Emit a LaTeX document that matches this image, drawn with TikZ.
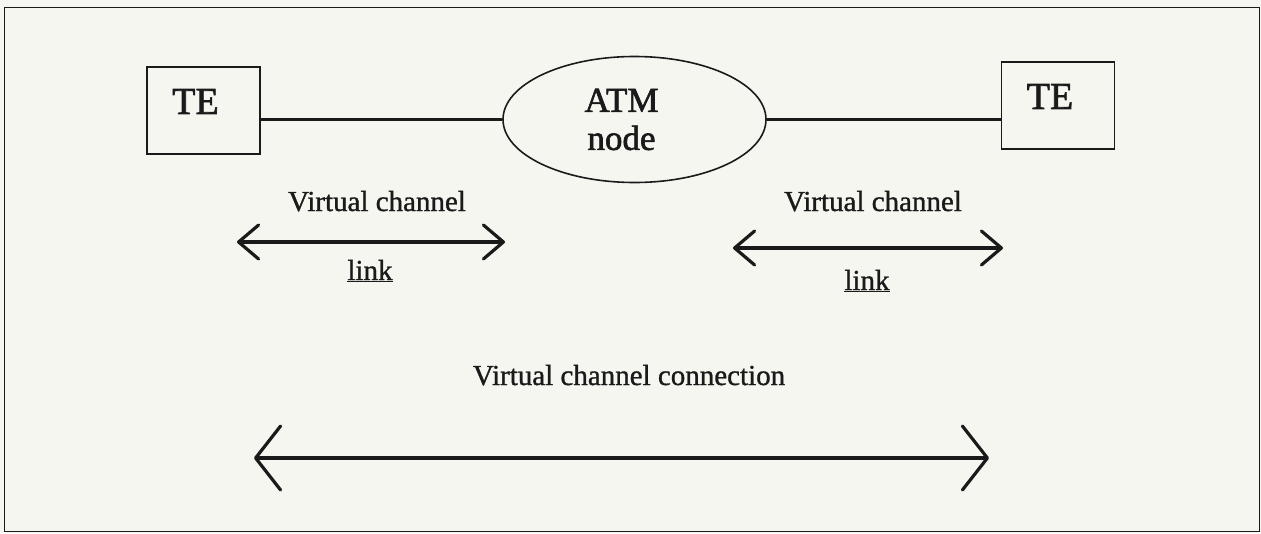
\documentclass[tikz,border=0pt]{standalone}
\usepackage{fontspec}
\setmainfont{Liberation Serif}
\newfontfamily\heavyfont[FakeBold=1.8]{Liberation Serif}
\newfontfamily\labelfont[FakeBold=1.0]{Liberation Serif}
\usetikzlibrary{arrows.meta,shapes.geometric}
\definecolor{paper}{HTML}{F6F6F1}
\definecolor{ink}{HTML}{1A1A1A}
\begin{document}
\begin{tikzpicture}[x=1pt,y=-1pt,
  tebox/.style={draw=ink,line width=1.8pt,rectangle,inner sep=0pt,minimum width=113pt,minimum height=87pt},
  tetext/.style={font=\heavyfont\fontsize{38}{40}\selectfont,text=ink},
  atmshape/.style={draw=ink,line width=1.6pt,ellipse,inner sep=0pt,minimum width=263pt,minimum height=126pt},
  lbl/.style={font=\labelfont\fontsize{29}{32}\selectfont,text=ink,anchor=base,inner sep=0pt},
  wire/.style={draw=ink,line width=3.4pt},
  smallarrow/.style={draw=ink,line width=4.2pt,line cap=round,{Straight Barb[length=20pt,width=34pt,line width=3.2pt,round]}-{Straight Barb[length=20pt,width=34pt,line width=3.2pt,round]}},
  bigarrow/.style={draw=ink,line width=4.2pt,line cap=round,{Straight Barb[length=25pt,width=64pt,line width=3.2pt,round]}-{Straight Barb[length=25pt,width=64pt,line width=3.2pt,round]}}
]
\useasboundingbox (0,0) rectangle (1261,533);
\fill[paper] (0,0) rectangle (1261,533);
\draw[ink,line width=1.6pt] (4.5,7.5) rectangle (1259.5,531.5);

\node[tebox,label={[tetext,xshift=-8pt,yshift=9pt,name=teLt]center:TE}] (teL) at (203.5,110.5) {};
\node[tebox,label={[tetext,xshift=-8pt,yshift=9pt,name=teRt]center:TE}] (teR) at (1058,105.5) {};
\node[atmshape,label={[font=\heavyfont\fontsize{35}{38}\selectfont,text=ink,align=center,xshift=-13pt,name=atmt]center:ATM\\node}] (atm) at (634.5,119.5) {};

\draw[wire] (teL.east |- atm.west) -- (atm.west);
\draw[wire] (atm.east) -- (teR.west |- atm.east);

\node[lbl] (vcL) at (377,211) {Virtual channel};
\node[lbl] (vcR) at (873,211) {Virtual channel};
\node[lbl] (lkL) at (370,280) {\underline{link}};
\node[lbl] (lkR) at (867,290) {\underline{link}};
\node[lbl] (vcc) at (629,385) {Virtual channel connection};

\coordinate (a1) at (237,242);
\coordinate (a2) at (505,242);
\coordinate (b1) at (733,248);
\coordinate (b2) at (1003,248);
\coordinate (c1) at (254,458);
\coordinate (c2) at (989,458);
\draw[smallarrow] (a1) -- (a2);
\draw[smallarrow] (b1) -- (b2);
\draw[bigarrow] (c1) -- (c2);
\end{tikzpicture}
\end{document}
